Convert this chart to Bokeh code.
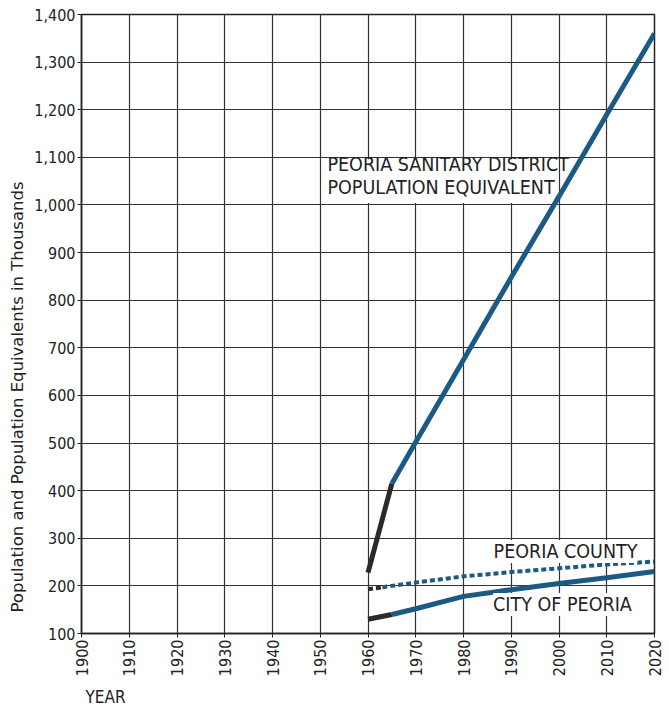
from bokeh.plotting import figure
from bokeh.models import (Label, BoxAnnotation, Title, FixedTicker, NumeralTickFormatter, Range1d)
from bokeh.embed import file_html
from bokeh.resources import INLINE
import math

# ---- data (thousands) ----
sd_early_years = [1960, 1965]
sd_early = [228, 415]
sd_years = [1965, 1970, 1980, 1990, 2000, 2010, 2020]
sd_values = [415, 502, 675, 848, 1018, 1190, 1360]

county_early_years = [1960, 1963]
county_early = [193, 197]
county_years = [1963, 1965, 1970, 1980, 1990, 2000, 2010, 2020]
county_values = [197, 200, 207, 220, 229, 237, 245, 251]

city_early_years = [1960, 1965]
city_early = [130, 140]
city_years = [1965, 1970, 1980, 1990, 2000, 2010, 2020]
city_values = [140, 152, 178, 192, 205, 217, 230]

x_ticks = [1900, 1910, 1920, 1930, 1940, 1950, 1960, 1970, 1980, 1990, 2000, 2010, 2020]
y_ticks = [100, 200, 300, 400, 500, 600, 700, 800, 900, 1000, 1100, 1200, 1300, 1400]

BLUE = "#1b5a84"
BLACK = "#2a2a2a"
FONT = "DejaVu Sans Condensed"

p = figure(width=669, height=711, output_backend="svg", toolbar_location=None,
           x_range=Range1d(1900, 2020), y_range=Range1d(100, 1400),
           min_border_left=80, min_border_right=15, min_border_top=14, min_border_bottom=78)
p.outline_line_color = "#222222"
p.outline_line_width = 1.5
p.background_fill_color = "white"
p.border_fill_color = "white"

p.xaxis.ticker = FixedTicker(ticks=x_ticks)
p.yaxis.ticker = FixedTicker(ticks=y_ticks)
p.yaxis.formatter = NumeralTickFormatter(format="0,0")
for ax in (p.xaxis[0], p.yaxis[0]):
    ax.axis_line_color = "#222222"
    ax.axis_line_width = 1.5
    ax.major_tick_line_color = "#222222"
    ax.major_tick_in = 0
    ax.major_tick_out = 4
    ax.minor_tick_line_color = None
    ax.major_label_text_font = FONT
    ax.major_label_text_font_size = "16px"
    ax.major_label_text_color = "#222222"
    ax.major_label_standoff = 2
p.xaxis.major_label_orientation = math.pi / 2

p.grid.grid_line_color = "#333333"
p.grid.grid_line_width = 1.2

# labels
p.add_layout(Title(text="Population and Population Equivalents in Thousands", align="left",
                   offset=21, text_font="DejaVu Sans", text_font_size="16.5px", text_font_style="normal",
                   text_color="#222222"), "left")
p.add_layout(Title(text="YEAR", align="left", offset=4, text_font=FONT, text_font_size="17px",
                   text_font_style="normal", text_color="#222222"), "below")

# white box behind sanitary district text
p.add_layout(BoxAnnotation(left=1950.3, right=1999.7, bottom=1004, top=1096,
                           fill_color="white", fill_alpha=1.0, line_color=None, level="underlay"))

# lines
p.line(sd_early_years, sd_early, line_color=BLACK, line_width=5)
p.line(sd_years, sd_values, line_color=BLUE, line_width=5)
p.line(county_early_years, county_early, line_color=BLACK, line_width=4, line_dash="5 3")
p.line(county_years, county_values, line_color=BLUE, line_width=4, line_dash="5 3")
p.line(city_early_years, city_early, line_color=BLACK, line_width=5)
p.line(city_years, city_values, line_color=BLUE, line_width=5)

def lab(x, y, t, bg=True):
    p.add_layout(Label(x=x, y=y, text=t, text_font=FONT, text_font_size="19.5px",
                       text_color="#222222", text_baseline="middle",
                       background_fill_color="white" if bg else None, background_fill_alpha=1.0))

lab(1951.5, 1084, "PEORIA SANITARY DISTRICT", bg=False)
lab(1951.5, 1036, "POPULATION EQUIVALENT", bg=False)
lab(1986.3, 272, "PEORIA COUNTY")
lab(1986.2, 161, "CITY OF PEORIA")

open("out.html", "w").write(file_html(p, INLINE))
